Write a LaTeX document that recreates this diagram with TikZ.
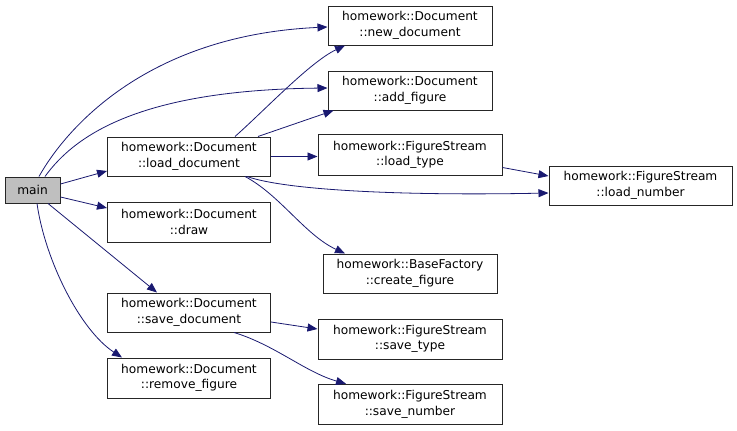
\documentclass[tikz,border=0pt]{standalone}
\usepackage{fontspec}
\setmainfont{DejaVu Sans}
\usetikzlibrary{arrows.meta,calc}
\definecolor{edgeblue}{HTML}{191970}
\definecolor{boxgray}{HTML}{BFBFBF}
\begin{document}
\begin{tikzpicture}[x=1pt,y=-1pt,
  fn/.style={draw=black!85, rectangle, inner sep=0pt, align=center,
    font=\fontsize{12.2}{15.5}\selectfont, line width=1pt},
  edge/.style={draw=edgeblue, line width=0.8pt,
    -{Triangle[length=10pt,width=8pt]}}]
\useasboundingbox (0,0) rectangle (737,431);
\node[fn, fill=boxgray, minimum width=55pt, minimum height=26pt] (main) at (32.5,190) {main};
\node[fn, minimum width=163pt, minimum height=39pt] (ld) at (189,156.5) {homework::Document\\::load\_document};
\node[fn, minimum width=163pt, minimum height=40pt] (dr) at (189,222) {homework::Document\\::draw};
\node[fn, minimum width=163pt, minimum height=39pt] (sd) at (189,312.5) {homework::Document\\::save\_document};
\node[fn, minimum width=163pt, minimum height=40pt] (rf) at (189,378) {homework::Document\\::remove\_figure};
\node[fn, minimum width=164pt, minimum height=39pt] (nd) at (410,25.5) {homework::Document\\::new\_document};
\node[fn, minimum width=164pt, minimum height=39pt] (af) at (410,90.5) {homework::Document\\::add\_figure};
\node[fn, minimum width=184pt, minimum height=41pt] (lt) at (410,155) {homework::FigureStream\\::load\_type};
\node[fn, minimum width=183pt, minimum height=39pt] (ln) at (640.5,185.5) {homework::FigureStream\\::load\_number};
\node[fn, minimum width=174pt, minimum height=39pt] (cf) at (410,273.5) {homework::BaseFactory\\::create\_figure};
\node[fn, minimum width=184pt, minimum height=40pt] (st) at (410,339) {homework::FigureStream\\::save\_type};
\node[fn, minimum width=184pt, minimum height=40pt] (sn) at (410,404.3) {homework::FigureStream\\::save\_number};

\draw[edge] ($(main.north)+(6.5,0)$) .. controls (68,125) and (150,35) .. ($(nd.west)+(0,1.5)$);
\draw[edge] ($(main.north)+(12.5,0)$) .. controls (75,135) and (140,90) .. ($(af.west)+(0,-2.5)$);
\draw[edge] ($(main.east)+(0,-6)$) -- ($(ld.west)+(0,14.5)$);
\draw[edge] ($(main.east)+(0,7)$) -- ($(dr.west)+(0,-14)$);
\draw[edge] ($(main.south)+(15.5,0)$) -- ($(sd.north)+(-32,0)$);
\draw[edge] ($(main.south)+(4.5,0)$) .. controls (45,260) and (80,330) .. ($(rf.north)+(-67,0)$);
\draw[edge] ($(ld.north)+(46,0)$) .. controls (265,110) and (310,62) .. ($(nd.south)+(-65,0)$);
\draw[edge] ($(ld.north)+(69,0)$) -- ($(af.south west)+(6,0)$);
\draw[edge] (ld.east) -- (ld.east -| lt.west);
\draw[edge] ($(ld.south)+(58,0)$) .. controls (285,190) and (400,196) .. ($(ln.west)+(0,7.5)$);
\draw[edge] ($(ld.south)+(56,0)$) .. controls (280,195) and (305,235) .. ($(cf.north)+(-65,0)$);
\draw[edge] ($(lt.east)+(0,12.5)$) -- ($(ln.west)+(0,-9.5)$);
\draw[edge] ($(sd.east)+(0,9.5)$) -- ($(st.west)+(0,-10)$);
\draw[edge] ($(sd.south)+(45,0)$) .. controls (275,345) and (305,372) .. ($(sn.north)+(-64,0)$);
\end{tikzpicture}
\end{document}
